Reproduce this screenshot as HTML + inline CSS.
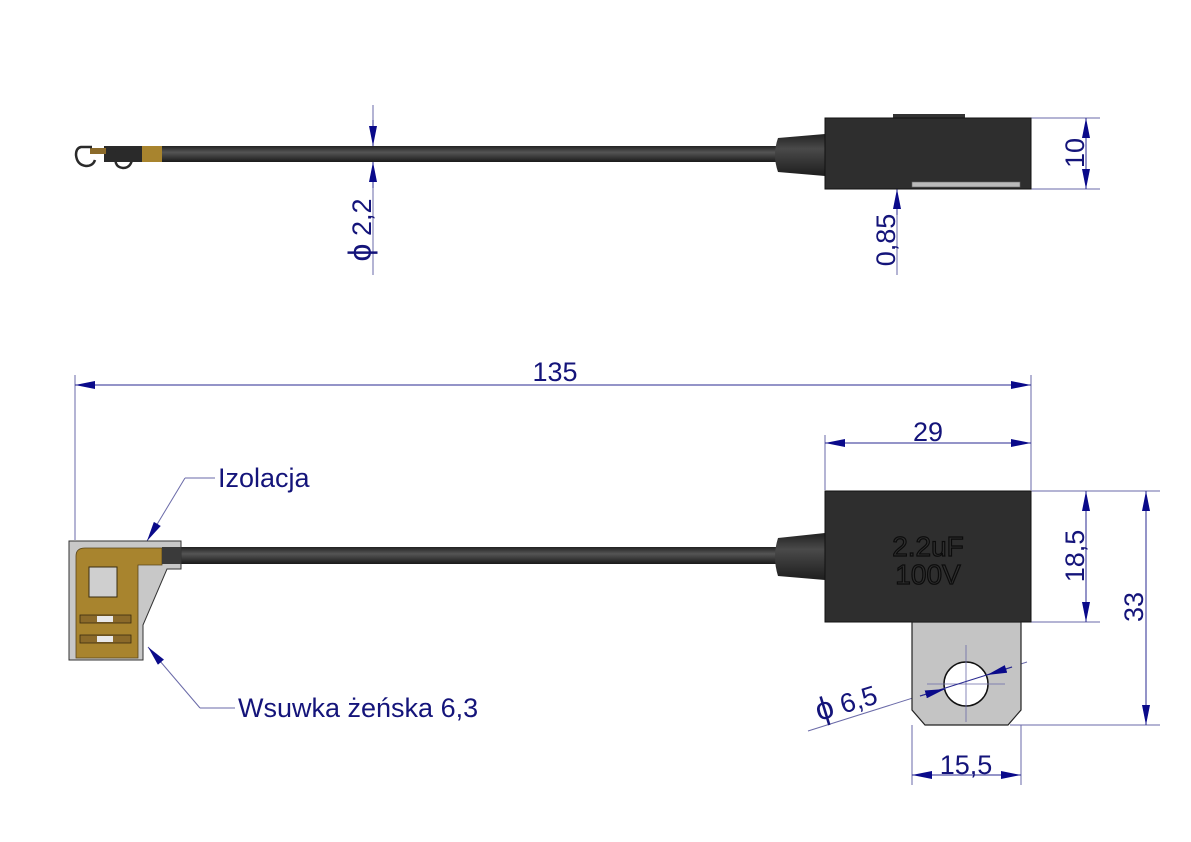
<!DOCTYPE html>
<html><head><meta charset="utf-8"><style>
html,body{margin:0;padding:0;background:#fff}
svg{display:block}
text{font-family:"Liberation Sans",sans-serif;fill:#14147a}
</style></head><body>
<svg width="1191" height="842" viewBox="0 0 1191 842" xmlns="http://www.w3.org/2000/svg">
<defs>
<marker id="a" viewBox="0 0 20 8" refX="20" refY="4" markerWidth="20" markerHeight="8" markerUnits="userSpaceOnUse" orient="auto-start-reverse"><path d="M0,0 L20,4 L0,8 z" fill="#0a0a8a"/></marker>
<linearGradient id="cab" x1="0" y1="0" x2="0" y2="1"><stop offset="0" stop-color="#222"/><stop offset="0.4" stop-color="#555"/><stop offset="1" stop-color="#1a1a1a"/></linearGradient>
<linearGradient id="sr" x1="0" y1="0" x2="0" y2="1"><stop offset="0" stop-color="#222"/><stop offset="0.35" stop-color="#4a4a4a"/><stop offset="1" stop-color="#1e1e1e"/></linearGradient>
</defs>
<g stroke="#6a6aa8" stroke-width="1" fill="none">
<line x1="1031" y1="118" x2="1100" y2="118"/><line x1="1031" y1="189" x2="1100" y2="189"/>
<line x1="373" y1="105" x2="373" y2="275"/>
<line x1="897" y1="143" x2="897" y2="275"/>
<line x1="880" y1="181" x2="912" y2="181"/>
<line x1="75" y1="375" x2="75" y2="540"/>
<line x1="1031" y1="375" x2="1031" y2="490"/>
<line x1="825" y1="435" x2="825" y2="490"/>
<line x1="1031" y1="491" x2="1160" y2="491"/>
<line x1="1031" y1="622" x2="1100" y2="622"/>
<line x1="1010" y1="725" x2="1160" y2="725"/>
<line x1="912" y1="725" x2="912" y2="785"/>
<line x1="1021" y1="725" x2="1021" y2="785"/>
<line x1="215" y1="478" x2="185" y2="478"/>
<line x1="235" y1="708" x2="200" y2="708"/>
<line x1="808" y1="731" x2="1027" y2="662"/>
</g>
<g stroke="#2a2a90" stroke-width="1" fill="none">
<line x1="373" y1="120" x2="373" y2="146" marker-end="url(#a)"/>
<line x1="373" y1="188" x2="373" y2="162" marker-end="url(#a)"/>
<line x1="1086" y1="118" x2="1086" y2="189" marker-start="url(#a)" marker-end="url(#a)"/>
<line x1="897" y1="155" x2="897" y2="181" marker-end="url(#a)"/>
<line x1="897" y1="215" x2="897" y2="189" marker-end="url(#a)"/>
<line x1="75" y1="385" x2="1031" y2="385" marker-start="url(#a)" marker-end="url(#a)"/>
<line x1="825" y1="443" x2="1031" y2="443" marker-start="url(#a)" marker-end="url(#a)"/>
<line x1="1086" y1="491" x2="1086" y2="622" marker-start="url(#a)" marker-end="url(#a)"/>
<line x1="1146" y1="491" x2="1146" y2="725" marker-start="url(#a)" marker-end="url(#a)"/>
<line x1="912" y1="775" x2="1021" y2="775" marker-start="url(#a)" marker-end="url(#a)"/>
<line x1="185" y1="478" x2="147" y2="541" stroke="#6a6aa8" marker-end="url(#a)"/>
<line x1="200" y1="708" x2="148" y2="647" stroke="#6a6aa8" marker-end="url(#a)"/>
</g>
<!-- top view -->
<rect x="160" y="146" width="620" height="16" fill="url(#cab)"/>
<path d="M778,138 L825,134 L825,176 L778,172 Q772,155 778,138z" fill="url(#sr)"/>
<rect x="893" y="114" width="72" height="5" fill="#333"/>
<rect x="825" y="118" width="206" height="71" fill="#2e2e2e" stroke="#111"/>
<rect x="912" y="182" width="108" height="5" fill="#bbb" stroke="#666" stroke-width="0.6"/>
<rect x="142" y="146" width="20" height="16" fill="#a8842e"/>
<rect x="104" y="146" width="38" height="16" fill="#2a2a2a"/>
<rect x="90" y="148" width="16" height="6" fill="#8b6a2a"/>
<path d="M92,147 L81,147 Q76,148 76,155 Q77,165 86,166 Q93,166 95,160" stroke="#2a2a2a" stroke-width="2.5" fill="none"/>
<path d="M117,151 Q112,167 123,168 Q134,168 132,150" stroke="#2a2a2a" stroke-width="2.5" fill="none"/>
<!-- bottom -->
<rect x="160" y="547" width="620" height="17" fill="url(#cab)"/>
<path d="M778,538 L825,533 L825,580 L778,576 Q772,557 778,538z" fill="url(#sr)"/>
<rect x="825" y="491" width="206" height="131" fill="#2e2e2e" stroke="#111"/>
<text x="928" y="556" text-anchor="middle" font-size="28" style="fill:#2e2e2e;stroke:#0c0c0c;stroke-width:1.2">2.2uF</text>
<text x="928" y="584" text-anchor="middle" font-size="28" style="fill:#2e2e2e;stroke:#0c0c0c;stroke-width:1.2">100V</text>
<path d="M912,622 L1021,622 L1021,710 L1008,725 L925,725 L912,710z" fill="#c4c4c4" stroke="#222" stroke-width="1.2"/>
<circle cx="966" cy="684" r="22" fill="#fff" stroke="#111" stroke-width="1.5"/>
<g stroke="#6a6aa8" stroke-width="0.8"><line x1="966" y1="645" x2="966" y2="722"/><line x1="927" y1="684" x2="1005" y2="684"/></g>
<line x1="920" y1="696" x2="1012" y2="667" stroke="#2a2a90" stroke-width="1"/>
<g stroke="#2a2a90" stroke-width="1">
<line x1="920" y1="696" x2="945" y2="689" marker-end="url(#a)"/>
<line x1="1012" y1="667" x2="987" y2="675" marker-end="url(#a)"/>
</g>
<!-- connector -->
<path d="M69,541 L181,541 L181,569 L167,569 L143,625 L143,660 L69,660z" fill="#c8c8c8" stroke="#333" stroke-width="1"/>
<path d="M85,548 L162,548 L162,565 L138,565 L138,658 L76,658 L76,556 Q76,548 85,548z" fill="#a8842e" stroke="#5a4518" stroke-width="0.8"/>
<rect x="89" y="567" width="28" height="30" fill="#cfcfcf" stroke="#3a2c10"/>
<rect x="80" y="615" width="51" height="8" fill="#8b6a2a" stroke="#3a2c10" stroke-width="0.8"/>
<rect x="97" y="616" width="16" height="6" fill="#e8e8e8"/>
<rect x="80" y="635" width="51" height="8" fill="#8b6a2a" stroke="#3a2c10" stroke-width="0.8"/>
<rect x="97" y="636" width="16" height="6" fill="#e8e8e8"/>
<rect x="162" y="547" width="19" height="17" fill="#3a3a3a"/>
<!-- texts -->
<text x="555" y="381" text-anchor="middle" font-size="27">135</text>
<text x="928" y="441" text-anchor="middle" font-size="27">29</text>
<text x="218" y="487" font-size="27">Izolacja</text>
<text x="238" y="717" font-size="27">Wsuwka żeńska 6,3</text>
<text x="966" y="774" text-anchor="middle" font-size="27">15,5</text>
<text transform="translate(1084,556) rotate(-90)" text-anchor="middle" font-size="27">18,5</text>
<text transform="translate(1143,607) rotate(-90)" text-anchor="middle" font-size="27">33</text>
<text transform="translate(1084,153) rotate(-90)" text-anchor="middle" font-size="27">10</text>
<text transform="translate(371,230) rotate(-90)" text-anchor="middle" font-size="27"><tspan font-size="32">ϕ</tspan> 2,2</text>
<text transform="translate(895,240) rotate(-90)" text-anchor="middle" font-size="27">0,85</text>
<text transform="translate(849,712) rotate(-17)" text-anchor="middle" font-size="27"><tspan font-size="32">ϕ</tspan> 6,5</text>
</svg>
</body></html>
